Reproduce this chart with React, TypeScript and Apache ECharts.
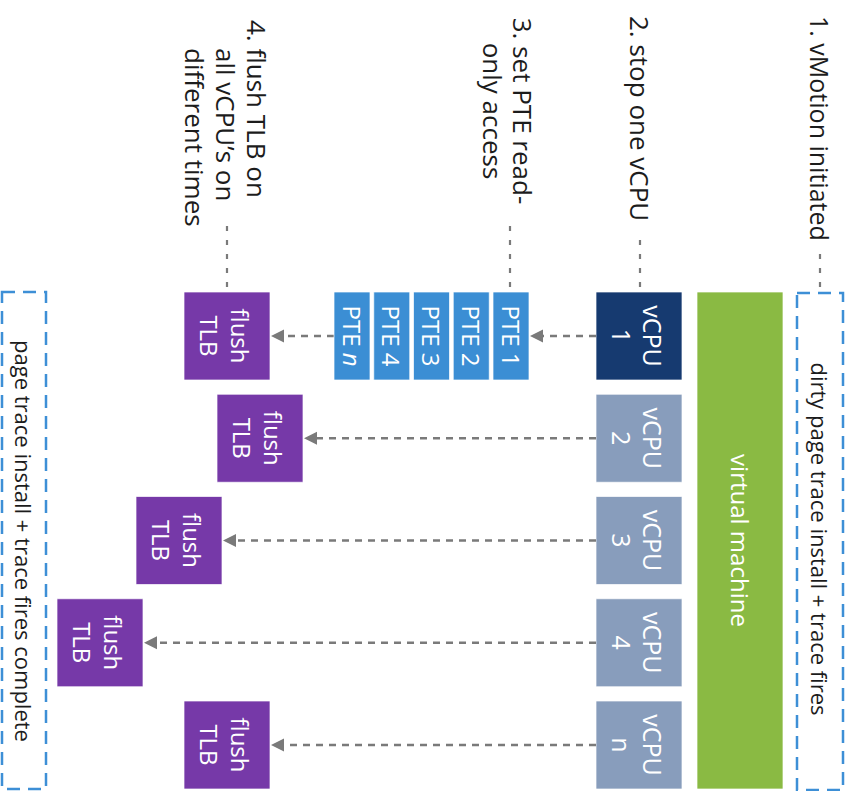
import React, { useEffect, useRef } from "react";
import * as echarts from "echarts";

// ---- content ----
const vcpuIds = ["1", "2", "3", "4", "n"];
const pteIds = ["1", "2", "3", "4", "{i|n}"];
const stepLabels = [
  "1. vMotion initiated",
  "2. stop one vCPU",
  "3. set PTE read-\nonly access",
];
const step4Lines = ["4. flush TLB on", "all vCPU\u2019s on", "different times"];
const vmLabel = "virtual machine";
const flushLabel = "flush\nTLB";
const startNote = "dirty page trace install + trace fires";
const endNote = "page trace install + trace fires complete";

// ---- layout (pixels) ----
const FONT = '"Open Sans", "Noto Sans", sans-serif';
const ROW_TOP = 292;
const ROW_PITCH = 102.25;
const BOX_H = 88;
const VCPU_X = 596;
const BOX_W = 86;
const VM_X = 697;
const PTE_RIGHT = 529;
const PTE_W = 36;
const PTE_PITCH = 39.75;
const flushLeft = [184, 217, 136, 57, 184];

const C = {
  navy: "#163a70",
  vcpu: "#889dbc",
  green: "#8aba43",
  pte: "#3b8ed4",
  purple: "#7639a8",
  dashBlue: "#3d8fd6",
  gray: "#7a7a7a",
  text: "#1c1c1c",
};

const ROT = -Math.PI / 2;

function boxText(cx: number, cy: number, text: string, size = 24, rich?: any) {
  return {
    type: "text",
    x: cx,
    y: cy,
    rotation: ROT,
    style: {
      text,
      fill: "#fff",
      fontSize: size,
      fontFamily: FONT,
      textAlign: "center",
      textVerticalAlign: "middle",
      lineHeight: 31,
      rich,
    },
    z: 10,
  };
}

function labelText(x: number, y: number, text: string, align = "left", size = 26) {
  return {
    type: "text",
    x,
    y,
    rotation: ROT,
    style: {
      text,
      fill: C.text,
      fontSize: size,
      fontFamily: FONT,
      textAlign: align,
      textVerticalAlign: "middle",
      lineHeight: 30,
    },
    z: 10,
  };
}

function rect(x: number, y: number, w: number, h: number, fill: string) {
  return {
    type: "rect",
    shape: { x, y, width: w, height: h },
    style: { fill, stroke: "rgba(255,255,255,0.7)", lineWidth: 1 },
  };
}

function dashedArrow(x1: number, x2: number, y: number) {
  const head = 13;
  return [
    {
      type: "line",
      shape: { x1, y1: y, x2: x2 + head, y2: y },
      style: { stroke: C.gray, lineWidth: 2.5, lineDash: [7, 6] },
    },
    {
      type: "polygon",
      shape: {
        points: [
          [x2 + 1, y],
          [x2 + head + 1, y - 6.5],
          [x2 + head + 1, y + 6.5],
        ],
      },
      style: { fill: C.gray },
    },
  ];
}

function dotted(x: number, y1: number, y2: number) {
  return {
    type: "line",
    shape: { x1: x, y1, x2: x, y2 },
    style: { stroke: C.gray, lineWidth: 2.2, lineDash: [5, 9] },
  };
}

export default function App() {
  const ref = useRef<HTMLDivElement>(null);
  useEffect(() => {
    if (!ref.current) return;
    const chart = echarts.init(ref.current, undefined, { renderer: "svg" });
    const els: any[] = [];

    // right dashed note box
    els.push({
      type: "rect",
      shape: { x: 797, y: 293, width: 46, height: 497 },
      style: { fill: "none", stroke: C.dashBlue, lineWidth: 2.5, lineDash: [13, 8] },
    });
    els.push(labelText(820, 539, startNote, "center", 22));

    // left dashed note box
    els.push({
      type: "rect",
      shape: { x: 2, y: 292, width: 44, height: 497 },
      style: { fill: "none", stroke: C.dashBlue, lineWidth: 2.5, lineDash: [13, 8] },
    });
    els.push(labelText(24, 541, endNote, "center", 22));

    // virtual machine
    const vmH = 4 * ROW_PITCH + BOX_H;
    els.push(rect(VM_X, ROW_TOP, BOX_W, vmH, C.green));
    els.push(boxText(VM_X + BOX_W / 2, ROW_TOP + vmH / 2, vmLabel, 24));

    // vCPUs + flush boxes + arrows
    vcpuIds.forEach((id, i) => {
      const top = ROW_TOP + i * ROW_PITCH;
      const cy = top + BOX_H / 2;
      els.push(rect(VCPU_X, top, BOX_W, BOX_H, i === 0 ? C.navy : C.vcpu));
      els.push(boxText(VCPU_X + BOX_W / 2 - 2, cy, "vCPU\n" + id, 25));

      const fl = flushLeft[i];
      els.push(rect(fl, top, BOX_W, BOX_H, C.purple));
      els.push(boxText(fl + BOX_W / 2 - 2, cy, flushLabel, 24));

      if (i === 0) {
        els.push(...dashedArrow(VCPU_X, PTE_RIGHT, cy));
        const pteLastLeft = PTE_RIGHT - PTE_W - (pteIds.length - 1) * PTE_PITCH;
        els.push(...dashedArrow(pteLastLeft, fl + BOX_W, cy));
      } else {
        els.push(...dashedArrow(VCPU_X, fl + BOX_W, cy));
      }
    });

    // PTE boxes
    pteIds.forEach((id, i) => {
      const left = PTE_RIGHT - PTE_W - i * PTE_PITCH;
      els.push(rect(left, ROW_TOP, PTE_W, BOX_H, C.pte));
      els.push(
        boxText(left + PTE_W / 2, ROW_TOP + BOX_H / 2, "PTE " + id, 24, {
          i: { fontStyle: "italic", fontSize: 24, fontFamily: FONT, fill: "#fff" },
        })
      );
    });

    // step labels
    els.push(labelText(820, 16, stepLabels[0], "left", 25));
    els.push(dotted(820, 254, ROW_TOP));
    els.push(labelText(640, 16, stepLabels[1]));
    els.push(dotted(640, 240, ROW_TOP));
    els.push(labelText(508, 111, stepLabels[2], "center"));
    els.push(dotted(510, 226, ROW_TOP));
    const s4x = [257, 226, 195];
    const s4y = [20, 48, 48];
    step4Lines.forEach((t, i) => els.push(labelText(s4x[i], s4y[i], t)));
    els.push(dotted(227, 226, ROW_TOP));

    chart.setOption({
      animation: false,
      backgroundColor: "#ffffff",
      graphic: { elements: els },
    });
    return () => chart.dispose();
  }, []);

  return (
    <div
      ref={ref}
      style={{ position: "fixed", left: 0, top: 0, width: 855, height: 791 }}
    />
  );
}
